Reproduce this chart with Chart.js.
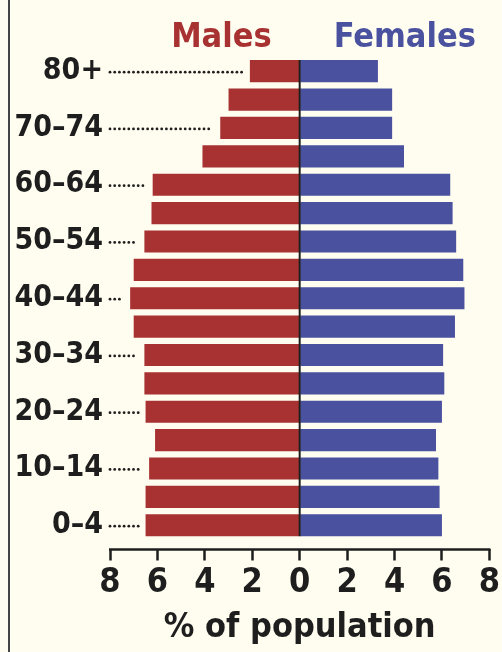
<!DOCTYPE html>
<html>
<head>
<meta charset="utf-8">
<script src="https://cdn.jsdelivr.net/npm/chart.js@4"></script>
<style>
  html, body { margin: 0; padding: 0; background: #fffdf0; }
  #wrap { width: 502px; height: 652px; position: relative; }
</style>
</head>
<body>
<div id="wrap"><canvas id="pyramid"></canvas></div>
<script>
// age groups, top to bottom
const ageGroups = ["80+", "75–79", "70–74", "65–69", "60–64", "55–59", "50–54", "45–49",
  "40–44", "35–39", "30–34", "25–29", "20–24", "15–19", "10–14", "5–9", "0–4"];
const males = [2.1, 3.0, 3.35, 4.1, 6.2, 6.25, 6.55, 7.0, 7.15, 7.0, 6.55, 6.55, 6.5, 6.1, 6.35, 6.5, 6.5];
const females = [3.3, 3.9, 3.9, 4.4, 6.35, 6.45, 6.6, 6.9, 6.95, 6.55, 6.05, 6.1, 6.0, 5.75, 5.85, 5.9, 6.0];
const xTicks = [-8, -6, -4, -2, 0, 2, 4, 6, 8];

const FONT = '"Liberation Sans Narrow", "DejaVu Sans Condensed", "Open Sans", sans-serif';
const RED = "#a83232";
const BLUE = "#4a52a0";
const INK = "#1e1e1e";

// frame, titles, leaders, centre line, axis line
const extras = {
  id: "extras",
  beforeDraw(chart) {
    const c = chart.ctx;
    c.save();
    c.fillStyle = "#fffdf0";
    c.fillRect(0, 0, chart.width, chart.height);
    c.strokeStyle = "#444";
    c.lineWidth = 2;
    c.beginPath();
    c.moveTo(9, 0);
    c.lineTo(9, chart.height);
    c.stroke();
    c.restore();
  },
  afterDatasetsDraw(chart) {
    const c = chart.ctx;
    const x = chart.scales.x, y = chart.scales.y;
    const area = chart.chartArea;
    const x0 = x.getPixelForValue(0);
    c.save();

    // series titles
    c.font = "bold 34px " + FONT;
    c.textBaseline = "alphabetic";
    c.fillStyle = RED;
    c.textAlign = "right";
    c.fillText(chart.data.datasets[0].label, x0 - 28, 47);
    c.fillStyle = BLUE;
    c.textAlign = "left";
    c.fillText(chart.data.datasets[1].label, x0 + 34, 47);

    // dotted leaders on labelled rows
    c.fillStyle = INK;
    ageGroups.forEach(function (g, i) {
      if (i % 2 !== 0) return;
      const yy = y.getPixelForValue(i) + 1;
      const end = x.getPixelForValue(-males[i]) - 7;
      for (let px = area.left; px <= end; px += 4.7) {
        c.beginPath();
        c.arc(px, yy, 1.4, 0, Math.PI * 2);
        c.fill();
      }
    });

    // centre line
    const half = (y.getPixelForValue(1) - y.getPixelForValue(0)) * 0.39;
    c.strokeStyle = INK;
    c.lineWidth = 2;
    c.beginPath();
    c.moveTo(x0, y.getPixelForValue(0) - half);
    c.lineTo(x0, y.getPixelForValue(ageGroups.length - 1) + half);
    c.stroke();

    // x axis line sits below the bars
    c.lineWidth = 2.5;
    c.beginPath();
    c.moveTo(x.getPixelForValue(-8) - 1, area.bottom + 10);
    c.lineTo(x.getPixelForValue(8) + 1, area.bottom + 10);
    c.stroke();
    c.restore();
  }
};

const ctx = document.getElementById("pyramid").getContext("2d");
const chart = new Chart(ctx, {
  type: "bar",
  data: {
    labels: ageGroups,
    datasets: [
      { label: "Males", data: males.map(v => -v), backgroundColor: RED },
      { label: "Females", data: females, backgroundColor: BLUE }
    ]
  },
  options: {
    indexAxis: "y",
    responsive: true,
    maintainAspectRatio: false,
    animation: false,
    layout: { padding: { top: 57, right: 10, left: 0, bottom: 0 } },
    categoryPercentage: 0.78,
    barPercentage: 1,
    plugins: {
      legend: { display: false },
      tooltip: { enabled: false },
      title: { display: false }
    },
    scales: {
      x: {
        stacked: true,
        min: -8,
        max: 8,
        afterBuildTicks: function (scale) {
          scale.ticks = xTicks.map(v => ({ value: v }));
        },
        border: { display: false },
        grid: {
          drawOnChartArea: false,
          drawTicks: true,
          tickLength: 21,
          tickWidth: 2.5,
          tickColor: INK,
          tickBorderDash: [0, 10, 11]
        },
        ticks: {
          color: INK,
          padding: 2,
          font: { family: FONT, size: 34, weight: "bold" },
          callback: function (v) { return Math.abs(v); }
        },
        title: {
          display: true,
          text: "% of population",
          color: INK,
          padding: { top: 3, bottom: 3 },
          font: { family: FONT, size: 34, weight: "bold" }
        }
      },
      y: {
        stacked: true,
        grid: { display: false, drawTicks: false },
        border: { display: false },
        afterFit: function (scale) { scale.width = 110; },
        ticks: {
          color: INK,
          padding: 7,
          autoSkip: false,
          font: { family: FONT, size: 30, weight: "bold" },
          callback: function (v, i) { return i % 2 === 0 ? ageGroups[i] : ""; }
        }
      }
    }
  },
  plugins: [extras]
});
</script>
</body>
</html>
